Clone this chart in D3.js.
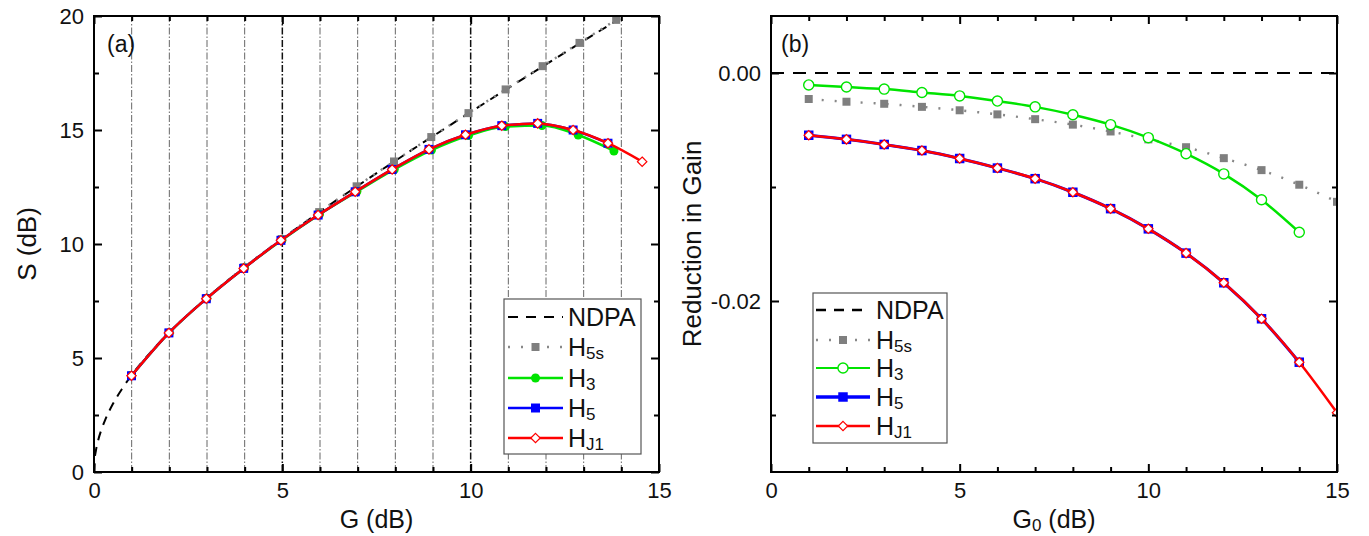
<!DOCTYPE html>
<html lang="en">
<head>
  <meta charset="UTF-8">
  <title>Gain reduction</title>
  <style>
    body { margin: 0; background: #fff; }
    svg text { font-family: "Liberation Sans", Arial, sans-serif; fill: #111; }
  </style>
</head>
<body>
  <svg id="svg" width="1369" height="536"></svg>
  <script src="https://cdn.jsdelivr.net/npm/d3@7"></script>
  <script>
    // ---- panel (a): S vs G ----
    const aNdpaG = [0, 0.02, 0.05, 0.1, 0.2, 0.3, 0.5, 0.75, 1, 1.5, 2, 3, 4, 5, 6, 7, 8, 9, 10, 11, 12, 13, 14]
    const aNdpaS = [0, 0.59, 0.93, 1.32, 1.87, 2.3, 2.98, 3.66, 4.25, 5.25, 6.12, 7.64, 8.99, 10.23, 11.42, 12.55, 13.65, 14.73, 15.79, 16.84, 17.88, 18.91, 19.93]

    const aH5sG = [0.998, 1.995, 2.992, 3.988, 4.984, 5.978, 6.972, 7.964, 8.954, 9.942, 10.928, 11.91, 12.889, 13.863]
    const aH5sS = [4.24, 6.11, 7.63, 8.98, 10.22, 11.4, 12.53, 13.62, 14.69, 15.74, 16.78, 17.8, 18.82, 19.83]

    const aH3G = [0.999, 1.998, 2.996, 3.993, 4.99, 5.985, 6.979, 7.971, 8.959, 9.943, 10.922, 11.894, 12.855, 13.804]
    const aH3S = [4.23, 6.11, 7.62, 8.95, 10.18, 11.3, 12.3, 13.27, 14.12, 14.76, 15.15, 15.2, 14.78, 14.08]

    const aH5G = [0.995, 1.988, 2.981, 3.973, 4.963, 5.95, 6.935, 7.916, 8.893, 9.863, 10.826, 11.779, 12.72, 13.645]
    const aH5S = [4.22, 6.1, 7.6, 8.93, 10.16, 11.27, 12.29, 13.27, 14.15, 14.79, 15.19, 15.29, 15.0, 14.42]

    const aHJ1G = [0.995, 1.988, 2.981, 3.973, 4.963, 5.95, 6.935, 7.916, 8.893, 9.863, 10.826, 11.779, 12.72, 13.645, 14.553]
    const aHJ1S = [4.22, 6.1, 7.6, 8.93, 10.16, 11.27, 12.29, 13.27, 14.15, 14.79, 15.19, 15.29, 15.0, 14.42, 13.61]

    const aGridX = [1, 2, 3, 4, 5, 6, 7, 8, 9, 10, 11, 12, 13, 14]
    const aXMajor = [0, 5, 10, 15]
    const aXMinor = [1, 2, 3, 4, 6, 7, 8, 9, 11, 12, 13, 14]
    const aYMajor = [0, 5, 10, 15, 20]
    const aYMinor = [2.5, 7.5, 12.5, 17.5]

    // ---- panel (b): reduction in gain vs G0 ----
    const bG0 = [1, 2, 3, 4, 5, 6, 7, 8, 9, 10, 11, 12, 13, 14, 15]
    const bNdpa = [0, 0]
    const bNdpaX = [0, 15]
    const bH5s = [-0.00228, -0.00252, -0.0027, -0.00297, -0.00327, -0.00363, -0.00405, -0.00453, -0.00513, -0.00582, -0.00651, -0.00747, -0.00852, -0.0098, -0.0113]
    const bH3 = [-0.00105, -0.00123, -0.00141, -0.00171, -0.00201, -0.00246, -0.00297, -0.00366, -0.00453, -0.00567, -0.00708, -0.00885, -0.01112, -0.01397]
    const bH5 = [-0.00546, -0.00582, -0.00627, -0.0068, -0.0075, -0.00834, -0.00927, -0.01046, -0.0119, -0.01367, -0.0158, -0.0184, -0.02156, -0.02537]
    const bHJ1 = [-0.00546, -0.00582, -0.00627, -0.0068, -0.0075, -0.00834, -0.00927, -0.01046, -0.0119, -0.01367, -0.0158, -0.0184, -0.02156, -0.02537, -0.0298]

    const bXMajor = [0, 5, 10, 15]
    const bXMinor = [1, 2, 3, 4, 6, 7, 8, 9, 11, 12, 13, 14]
    const bYMajor = [0, -0.02]
    const bYMajorLabels = ['0.00', '-0.02']
    const bYMinor = [-0.01, -0.03]

    const legendNames = [['NDPA', ''], ['H', '5s'], ['H', '3'], ['H', '5'], ['H', 'J1']]

    const GREEN = '#00e400', BLUE = '#0000ff', RED = '#ff0000', GRAY = '#7f7f7f'
    const plotTop = 16, plotBottom = 472

    const svg = d3.select('#svg')

    const zip = (xs, ys) => xs.map((x, i) => [x, ys[i]]).filter(d => d[1] !== undefined)

    // marker helper
    function marker(g, kind, pts, x, y) {
      const sym = {
        square: d3.symbol().type(d3.symbolSquare).size(81),
        squareB: d3.symbol().type(d3.symbolSquare).size(90),
        circle: d3.symbol().type(d3.symbolCircle).size(64),
        circleOpen: d3.symbol().type(d3.symbolCircle).size(80),
        diamond: d3.symbol().type(d3.symbolDiamond2 || d3.symbolDiamond).size(56)
      }
      const style = {
        square: { fill: BLUE, stroke: 'none' },
        squareB: { fill: BLUE, stroke: 'none' },
        gray: { fill: GRAY, stroke: 'none' },
        circle: { fill: GREEN, stroke: 'none' },
        circleOpen: { fill: '#fff', stroke: GREEN, sw: 1.4 },
        diamond: { fill: '#fff', stroke: RED, sw: 1.2 }
      }[kind]
      const shape = kind === 'gray' ? d3.symbol().type(d3.symbolSquare).size(64) : sym[kind]
      g.append('g').selectAll('path')
        .data(pts)
        .join('path')
        .attr('transform', d => `translate(${x(d[0])},${y(d[1])})`)
        .attr('d', shape)
        .attr('fill', style.fill)
        .attr('stroke', style.stroke)
        .attr('stroke-width', style.sw || 0)
    }

    function line(g, pts, x, y, opts) {
      g.append('path')
        .datum(pts)
        .attr('fill', 'none')
        .attr('stroke', opts.color)
        .attr('stroke-width', opts.width)
        .attr('stroke-dasharray', opts.dash || null)
        .attr('stroke-linecap', opts.cap || 'butt')
        .attr('d', d3.line().x(d => x(d[0])).y(d => y(d[1])).curve(d3.curveMonotoneX))
    }

    function frameAxes(g, x, y, xMaj, xMin, yMaj, yMin, yFmt) {
      const [x0, x1] = x.range()
      const [y0, y1] = y.range()
      const axes = [
        [d3.axisBottom(x).tickValues(xMaj).tickSize(-8).tickPadding(10).tickFormat(d3.format('d')), `translate(0,${y0})`],
        [d3.axisBottom(x).tickValues(xMin).tickSize(-5).tickFormat(''), `translate(0,${y0})`],
        [d3.axisTop(x).tickValues(xMaj).tickSize(-8).tickFormat(''), `translate(0,${y1})`],
        [d3.axisTop(x).tickValues(xMin).tickSize(-5).tickFormat(''), `translate(0,${y1})`],
        [d3.axisLeft(y).tickValues(yMaj).tickSize(-8).tickPadding(10).tickFormat(yFmt), `translate(${x0},0)`],
        [d3.axisLeft(y).tickValues(yMin).tickSize(-5).tickFormat(''), `translate(${x0},0)`],
        [d3.axisRight(y).tickValues(yMaj).tickSize(-8).tickFormat(''), `translate(${x1},0)`],
        [d3.axisRight(y).tickValues(yMin).tickSize(-5).tickFormat(''), `translate(${x1},0)`]
      ]
      axes.forEach(([ax, tr]) => {
        const a = g.append('g').attr('transform', tr).call(ax)
        a.select('.domain').remove()
        a.selectAll('line').attr('stroke', '#000').attr('stroke-width', 2)
        a.selectAll('text').attr('font-size', 22).attr('font-family', '"Liberation Sans", Arial, sans-serif').attr('fill', '#111')
      })
      g.append('rect')
        .attr('x', x0).attr('y', y1)
        .attr('width', x1 - x0).attr('height', y0 - y1)
        .attr('fill', 'none').attr('stroke', '#000').attr('stroke-width', 2)
    }

    function legend(g, box, rows, sx0, sx1, tx, entries) {
      g.append('rect')
        .attr('x', box[0]).attr('y', box[1])
        .attr('width', box[2] - box[0]).attr('height', box[3] - box[1])
        .attr('fill', '#fff').attr('stroke', '#555').attr('stroke-width', 1.2)
      const ident = d3.scaleIdentity()
      entries.forEach((e, i) => {
        const cy = rows[i]
        if (e.line) line(g, [[sx0, cy], [sx1, cy]], ident, ident, e.line)
        if (e.marker) marker(g, e.marker, [[(sx0 + sx1) / 2, cy]], ident, ident)
        const t = g.append('text').attr('x', tx).attr('y', cy + 9).attr('font-size', 25)
        t.append('tspan').text(legendNames[i][0])
        if (legendNames[i][1]) t.append('tspan').attr('font-size', 17).attr('dy', 3).text(legendNames[i][1])
      })
    }

    // ================= panel (a) =================
    const xa = d3.scaleLinear().domain([0, 15]).range([94, 659])
    const ya = d3.scaleLinear().domain([0, 20]).range([plotBottom, plotTop])
    const ga = svg.append('g')

    // vertical dash-dot grid
    ga.append('g').selectAll('line')
      .data(aGridX)
      .join('line')
      .attr('x1', d => xa(d)).attr('x2', d => xa(d))
      .attr('y1', ya(0)).attr('y2', ya(20))
      .attr('stroke', d => d % 5 === 0 ? '#111' : '#666')
      .attr('stroke-width', d => d % 5 === 0 ? 1.5 : 1)
      .attr('stroke-dasharray', '7,2,1.5,2')

    line(ga, zip(aNdpaG, aNdpaS), xa, ya, { color: '#000', width: 2, dash: '9,7' })
    line(ga, zip(aH5sG, aH5sS), xa, ya, { color: '#888', width: 2.4, dash: '2,7' })
    marker(ga, 'gray', zip(aH5sG, aH5sS), xa, ya)
    line(ga, zip(aH3G, aH3S), xa, ya, { color: GREEN, width: 2.5 })
    marker(ga, 'circle', zip(aH3G, aH3S), xa, ya)
    line(ga, zip(aH5G, aH5S), xa, ya, { color: BLUE, width: 2.5 })
    marker(ga, 'square', zip(aH5G, aH5S), xa, ya)
    line(ga, zip(aHJ1G, aHJ1S), xa, ya, { color: RED, width: 2.5 })
    marker(ga, 'diamond', zip(aHJ1G, aHJ1S), xa, ya)

    frameAxes(ga, xa, ya, aXMajor, aXMinor, aYMajor, aYMinor, d3.format('d'))

    ga.append('text').attr('x', 107).attr('y', 52).attr('font-size', 23).text('(a)')
    ga.append('text').attr('x', (94 + 659) / 2).attr('y', 528).attr('text-anchor', 'middle').attr('font-size', 25).text('G (dB)')
    ga.append('text').attr('transform', 'translate(27,244) rotate(-90)').attr('dy', '0.36em')
      .attr('text-anchor', 'middle').attr('font-size', 26).text('S (dB)')

    legend(ga, [504, 299, 641, 454], [317, 347, 378, 408, 438], 508, 563, 568, [
      { line: { color: '#000', width: 2, dash: '10,8' } },
      { line: { color: '#888', width: 2.4, dash: '2,11' }, marker: 'gray' },
      { line: { color: GREEN, width: 2.5 }, marker: 'circle' },
      { line: { color: BLUE, width: 2.5 }, marker: 'square' },
      { line: { color: RED, width: 2.5 }, marker: 'diamond' }
    ])

    // ================= panel (b) =================
    const xb = d3.scaleLinear().domain([0, 15]).range([771, 1337])
    const yb = d3.scaleLinear().domain([-0.035, 0.005]).range([plotBottom, plotTop])
    const gb = svg.append('g')
    svg.append('clipPath').attr('id', 'clipB')
      .append('rect').attr('x', 771).attr('y', plotTop).attr('width', 1337 - 771).attr('height', plotBottom - plotTop)
    const gbData = gb.append('g').attr('clip-path', 'url(#clipB)')

    line(gbData, zip(bNdpaX, bNdpa), xb, yb, { color: '#000', width: 2, dash: '13,9' })
    line(gbData, zip(bG0, bH5s), xb, yb, { color: '#888', width: 2.4, dash: '2,11' })
    marker(gbData, 'gray', zip(bG0, bH5s), xb, yb)
    line(gbData, zip(bG0, bH3), xb, yb, { color: GREEN, width: 2.5 })
    marker(gbData, 'circleOpen', zip(bG0, bH3), xb, yb)
    line(gbData, zip(bG0, bH5), xb, yb, { color: BLUE, width: 3 })
    marker(gbData, 'squareB', zip(bG0, bH5), xb, yb)
    line(gbData, zip(bG0, bHJ1), xb, yb, { color: RED, width: 2.5 })
    marker(gbData, 'diamond', zip(bG0, bHJ1), xb, yb)

    frameAxes(gb, xb, yb, bXMajor, bXMinor, bYMajor, bYMinor, d => bYMajorLabels[bYMajor.indexOf(d)])

    gb.append('text').attr('x', 781).attr('y', 52).attr('font-size', 23).text('(b)')
    const xt = gb.append('text').attr('x', (771 + 1337) / 2).attr('y', 528).attr('text-anchor', 'middle').attr('font-size', 25)
    xt.append('tspan').text('G')
    xt.append('tspan').attr('font-size', 17).attr('dy', 3).text('0')
    xt.append('tspan').attr('dy', -3).text(' (dB)')
    gb.append('text').attr('transform', 'translate(692,244) rotate(-90)').attr('dy', '0.36em')
      .attr('text-anchor', 'middle').attr('font-size', 26).text('Reduction in Gain')

    legend(gb, [813, 293, 947, 443], [310, 340, 368, 397, 426], 816, 870, 876, [
      { line: { color: '#000', width: 2.5, dash: '10,8' } },
      { line: { color: '#888', width: 2.4, dash: '2,11' }, marker: 'gray' },
      { line: { color: GREEN, width: 2 }, marker: 'circleOpen' },
      { line: { color: BLUE, width: 3.5 }, marker: 'squareB' },
      { line: { color: RED, width: 2.5 }, marker: 'diamond' }
    ])
  </script>
</body>
</html>
